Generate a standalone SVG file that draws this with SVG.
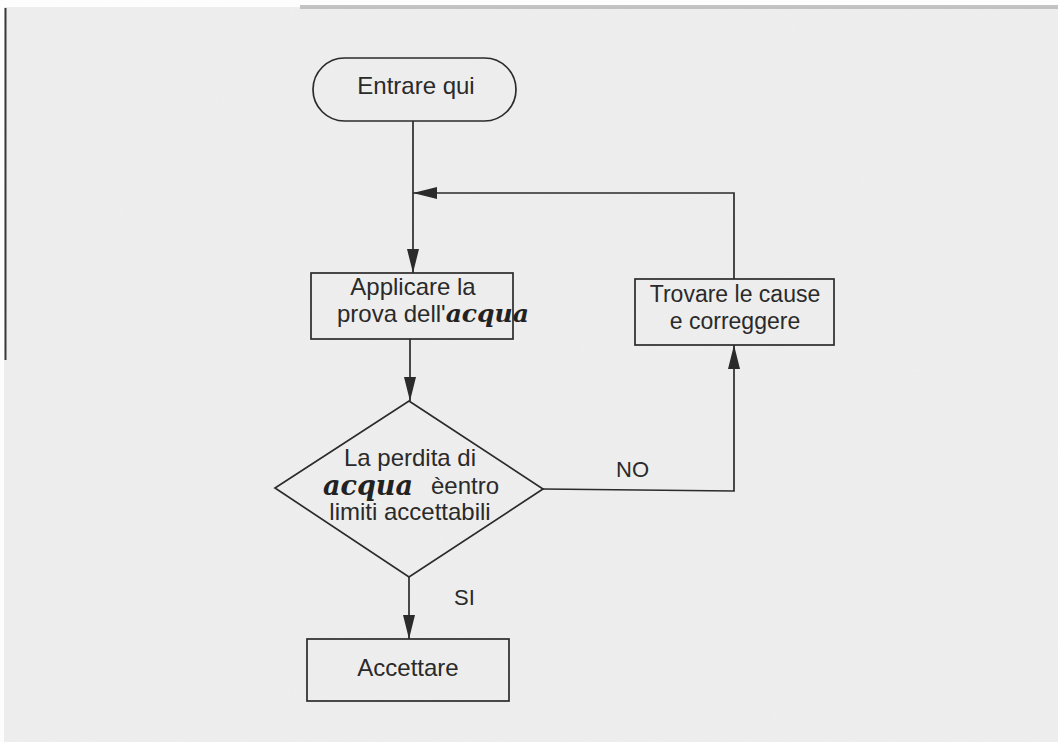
<svg xmlns="http://www.w3.org/2000/svg" width="1058" height="742" viewBox="0 0 1058 742">
  <style>
    .shape { fill: none; stroke: #2b2b2b; stroke-width: 1.7; }
    .edge { fill: none; stroke: #2b2b2b; stroke-width: 1.7; }
    .t { font-family: "Liberation Sans", Arial, sans-serif; font-size: 24px; fill: #2a2a2a; text-anchor: middle; }
    .t23 { font-size: 23px; }
    .lbl { font-family: "Liberation Sans", Arial, sans-serif; font-size: 22px; fill: #2a2a2a; }
    .hw { font-family: "DejaVu Serif", "Liberation Serif", serif; font-style: italic; font-weight: bold; fill: #222; }
  </style>
  <defs>
    <marker id="arr" viewBox="0 0 24 12" refX="24" refY="6" markerWidth="24" markerHeight="12" markerUnits="userSpaceOnUse" orient="auto">
      <path d="M0,0 L24,6 L0,12 Z" fill="#2b2b2b"/>
    </marker>
    <filter id="noise" x="0" y="0" width="100%" height="100%">
      <feTurbulence type="fractalNoise" baseFrequency="0.9" numOctaves="2" seed="3" result="n"/>
      <feColorMatrix type="matrix" values="0 0 0 0 0.5  0 0 0 0 0.5  0 0 0 0 0.5  0 0 0 0.07 0"/>
    </filter>
  </defs>

  <!-- page -->
  <rect x="0" y="0" width="1058" height="742" fill="#fdfdfd"/>
  <rect x="4" y="7" width="1054" height="735" fill="#efefef"/>
  <rect x="4" y="7" width="1054" height="735" filter="url(#noise)"/>
  <rect x="300" y="5" width="758" height="4" fill="#b5b5b5" opacity="0.8"/>
  <line x1="5.5" y1="8" x2="5.5" y2="360" stroke="#3a3a3a" stroke-width="2"/>

  <!-- connectors -->
  <g id="connectors">
    <line class="edge" x1="413" y1="121" x2="413" y2="273" marker-end="url(#arr)"/>
    <polyline class="edge" points="734,279 734,193 413,193" marker-end="url(#arr)"/>
    <line class="edge" x1="410" y1="339" x2="410" y2="401" marker-end="url(#arr)"/>
    <polyline class="edge" points="543,489 734,491 734,345" marker-end="url(#arr)"/>
    <line class="edge" x1="409" y1="577" x2="409" y2="639" marker-end="url(#arr)"/>
    <text class="lbl" x="616" y="477">NO</text>
    <text class="lbl" x="454" y="605">SI</text>
  </g>

  <!-- nodes -->
  <g id="start">
    <rect class="shape" x="313" y="58" width="203" height="63" rx="31.5" ry="31.5"/>
    <text class="t" x="416" y="94">Entrare qui</text>
  </g>

  <g id="apply">
    <rect class="shape" x="311" y="273" width="202" height="66"/>
    <text class="t" x="413" y="295">Applicare la</text>
    <text x="337" y="322" font-family="Liberation Sans, Arial, sans-serif" font-size="24" fill="#2a2a2a">prova dell'<tspan class="hw" font-size="25">acqua</tspan></text>
  </g>

  <g id="find">
    <rect class="shape" x="635" y="279" width="199" height="66"/>
    <text class="t t23" x="735" y="302">Trovare le cause</text>
    <text class="t t23" x="735" y="329">e correggere</text>
  </g>

  <g id="decision">
    <polygon class="shape" points="409,401 543,489 409,577 275,488"/>
    <text class="t" x="410" y="466">La perdita di</text>
    <text x="323" y="495" class="hw" font-size="27">acqua</text>
    <text x="431" y="494" font-family="Liberation Sans, Arial, sans-serif" font-size="24" fill="#2a2a2a">èentro</text>
    <text class="t" x="410" y="520">limiti accettabili</text>
  </g>

  <g id="accept">
    <rect class="shape" x="307" y="639" width="202" height="62"/>
    <text class="t" x="408" y="676">Accettare</text>
  </g>
</svg>
